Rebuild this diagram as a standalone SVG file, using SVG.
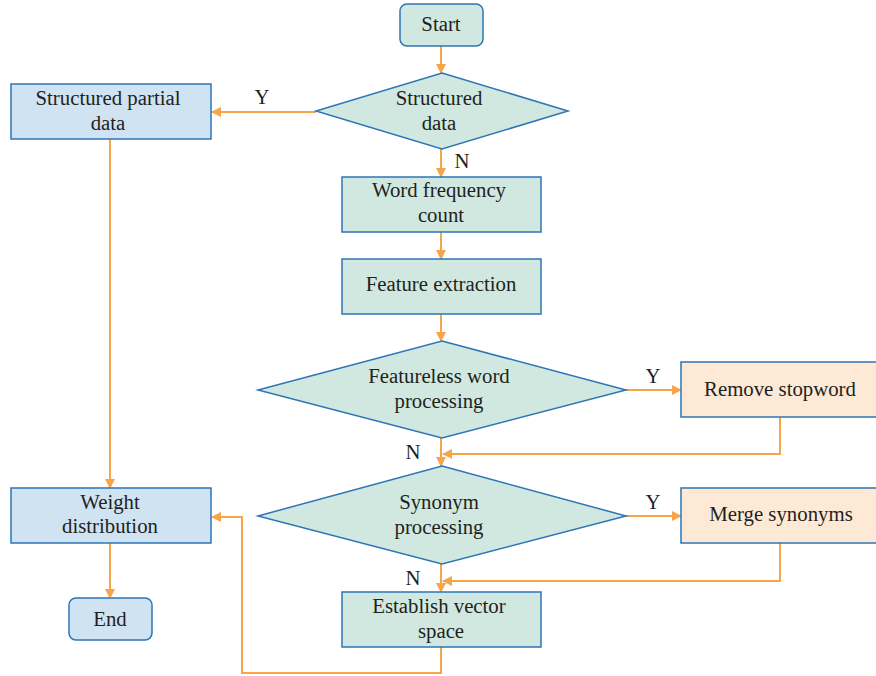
<svg xmlns="http://www.w3.org/2000/svg" width="876" height="676" viewBox="0 0 876 676">
<style>
text{font-family:"Liberation Serif","DejaVu Serif",serif;font-size:20.8px;fill:#231f20;text-anchor:middle}
.t{fill:#d0e8df;stroke:#2e75b6;stroke-width:1.5}
.b{fill:#d0e3f3;stroke:#2e75b6;stroke-width:1.5}
.p{fill:#fde9d6;stroke:#2e75b6;stroke-width:1.5}
.c{fill:none;stroke:#f7a54b;stroke-width:2}
</style>
<defs>
<marker id="ah" viewBox="0 0 10 10" refX="9" refY="5" markerWidth="5" markerHeight="5" orient="auto" markerUnits="strokeWidth">
<path d="M0,0 L10,5 L0,10 z" fill="#f7a54b"/>
</marker>
</defs>
<rect width="876" height="676" fill="#ffffff"/>
<g id="connectors">
<path class="c" d="M441,46 V73" marker-end="url(#ah)"/>
<path class="c" d="M316,112 H212" marker-end="url(#ah)"/>
<path class="c" d="M441,149 V177" marker-end="url(#ah)"/>
<path class="c" d="M441,232 V259" marker-end="url(#ah)"/>
<path class="c" d="M441,314 V341" marker-end="url(#ah)"/>
<path class="c" d="M626,390 H681" marker-end="url(#ah)"/>
<path class="c" d="M780,417 V454 H443" marker-end="url(#ah)"/>
<path class="c" d="M441,438 V466" marker-end="url(#ah)"/>
<path class="c" d="M626,516 H681" marker-end="url(#ah)"/>
<path class="c" d="M780,543 V581 H443" marker-end="url(#ah)"/>
<path class="c" d="M441,564 V592" marker-end="url(#ah)"/>
<path class="c" d="M441,647 V673 H242 V517 H212" marker-end="url(#ah)"/>
<path class="c" d="M110,139 V488" marker-end="url(#ah)"/>
<path class="c" d="M110,543 V598" marker-end="url(#ah)"/>
<text x="262" y="104">Y</text>
<text x="462" y="168">N</text>
<text x="653" y="383">Y</text>
<text x="413" y="459">N</text>
<text x="653" y="509">Y</text>
<text x="413" y="585">N</text>
</g>
<g id="start">
<rect class="t" x="400" y="4" width="83" height="42" rx="7"/>
<text x="441" y="31">Start</text>
</g>
<g id="structured-data">
<polygon class="t" points="442,73 568,111 442,149 316,111"/>
<text x="439" y="105">Structured</text>
<text x="439" y="130">data</text>
</g>
<g id="structured-partial-data">
<rect class="b" x="11" y="84" width="200" height="55"/>
<text x="108" y="105">Structured partial</text>
<text x="108" y="130">data</text>
</g>
<g id="word-frequency-count">
<rect class="t" x="342" y="177" width="199" height="55"/>
<text x="439" y="197">Word frequency</text>
<text x="441" y="222">count</text>
</g>
<g id="feature-extraction">
<rect class="t" x="342" y="259" width="199" height="55"/>
<text x="441" y="291">Feature extraction</text>
</g>
<g id="featureless-word-processing">
<polygon class="t" points="442,341 626,390 442,438 258,390"/>
<text x="439" y="383">Featureless word</text>
<text x="439" y="408">processing</text>
</g>
<g id="remove-stopword">
<rect class="p" x="681" y="362" width="200" height="55"/>
<text x="780" y="396">Remove stopword</text>
</g>
<g id="synonym-processing">
<polygon class="t" points="442,466 626,516 442,564 258,516"/>
<text x="439" y="509">Synonym</text>
<text x="439" y="534">processing</text>
</g>
<g id="merge-synonyms">
<rect class="p" x="681" y="488" width="200" height="55"/>
<text x="781" y="521">Merge synonyms</text>
</g>
<g id="establish-vector-space">
<rect class="t" x="342" y="592" width="199" height="55"/>
<text x="439" y="613">Establish vector</text>
<text x="441" y="638">space</text>
</g>
<g id="weight-distribution">
<rect class="b" x="11" y="488" width="200" height="55"/>
<text x="110" y="509">Weight</text>
<text x="110" y="533">distribution</text>
</g>
<g id="end">
<rect class="b" x="69" y="598" width="83" height="42" rx="7"/>
<text x="110" y="626">End</text>
</g>
</svg>
